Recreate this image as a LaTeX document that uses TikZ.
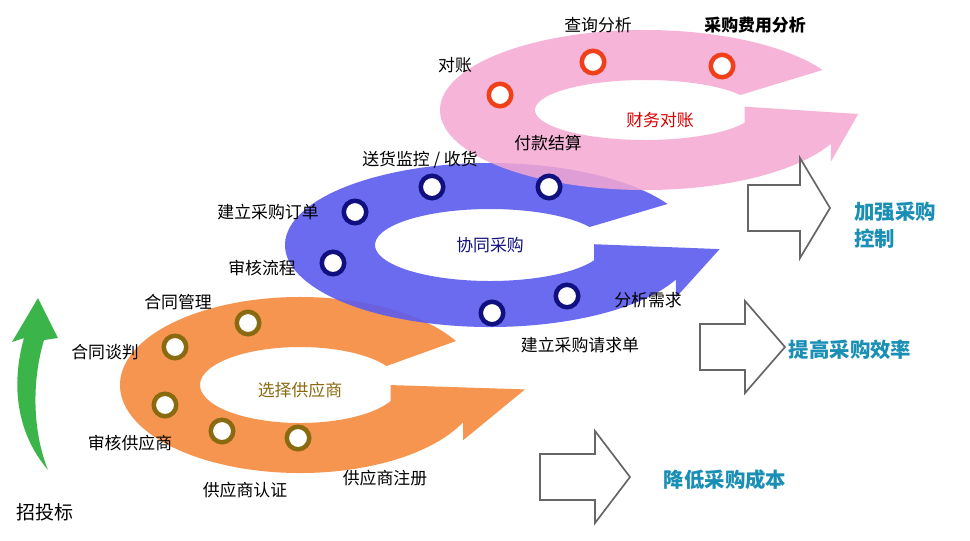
\documentclass[tikz,border=0pt]{standalone}
\usepackage{fontspec}
\setmainfont{Noto Sans CJK SC}
\usetikzlibrary{positioning}
\definecolor{ringorange}{HTML}{F58A3C}
\definecolor{ringblue}{HTML}{5C5CEE}
\definecolor{ringpink}{HTML}{F5A8D2}
\definecolor{dotbrown}{HTML}{8A6A10}
\definecolor{dotnavy}{HTML}{101080}
\definecolor{dotred}{HTML}{F0401A}
\definecolor{goalteal}{HTML}{1A8FB5}
\definecolor{tendergreen}{HTML}{3BB54A}
\tikzset{
    lbl/.style = {font=\fontsize{12}{14}\selectfont, inner sep=1pt},
    goal/.style = {font=\bfseries\fontsize{14.5}{19}\selectfont, text=goalteal, align=left, inner sep=1pt},
    stage dot/.style = {circle, draw=#1, line width=3.2pt, fill=white, minimum size=16pt, inner sep=0pt},
    outline arrow/.style = {draw=black!60, fill=white, line width=1.2pt, line join=miter}
}
% cx cy rx ry irx iry tip style
\newcommand{\cyclearrow}[8]{%
    \fill[#8] ({#1+#3*cos(330)},{#2+#4*sin(330)})
        arc[start angle=330, end angle=25, x radius=#3, y radius=#4]
        -- ++(0,18) -- ({#1+#7*#3},{#2+0.05*#4})
        -- ({#1+#5*cos(25)},{#2+#6*sin(25)-16})
        -- ({#1+#5*cos(25)},{#2+#6*sin(25)})
        arc[start angle=25, end angle=330, x radius=#5, y radius=#6] -- cycle;}
% x1 x2 x3 ymid halfshaft halfhead
\newcommand{\bigarrow}[6]{%
    \draw[outline arrow] (#1,#4-#5) -- (#2,#4-#5) -- (#2,#4-#6) -- (#3,#4)
        -- (#2,#4+#6) -- (#2,#4+#5) -- (#1,#4+#5) -- cycle;}
\begin{document}
\begin{tikzpicture}[x=0.025cm, y=-0.025cm]
    \useasboundingbox[fill=white] (0,0) rectangle (970,540);

    % rings
    \cyclearrow{300}{385}{180}{88}{100}{38}{1.25}{ringorange, opacity=.9}
    \cyclearrow{490}{245}{205}{82}{115}{36}{1.12}{ringblue, opacity=.9}
    \cyclearrow{645}{110}{205}{80}{110}{30}{1.04}{ringpink, opacity=.85}

    % tendering arrow
    \fill[tendergreen] (48,470) .. controls (14,430) and (12,380) .. (24,338)
        -- (12,342) -- (38,298) -- (58,338) -- (44,340)
        .. controls (32,380) and (32,430) .. (48,470) -- cycle;

    % goal arrows
    \bigarrow{748}{800}{830}{208}{23}{50}
    \bigarrow{700}{745}{785}{347}{23}{46}
    \bigarrow{540}{595}{630}{477}{23}{46}

    % stage dots
    \node[stage dot=dotbrown] (negotiate) at (175,347) {};
    \node[stage dot=dotbrown] (contract) at (248,323) {};
    \node[stage dot=dotbrown] (audit) at (165,405) {};
    \node[stage dot=dotbrown] (certify) at (222,431) {};
    \node[stage dot=dotbrown] (register) at (298,438) {};
    \node[stage dot=dotnavy] (delivery) at (432,187) {};
    \node[stage dot=dotnavy] (payment) at (549,187) {};
    \node[stage dot=dotnavy] (order) at (355,212) {};
    \node[stage dot=dotnavy] (review) at (333,263) {};
    \node[stage dot=dotnavy] (request) at (492,313) {};
    \node[stage dot=dotnavy] (demand) at (567,296) {};
    \node[stage dot=dotred] (reconcile) at (500,95) {};
    \node[stage dot=dotred] (query) at (593,62) {};
    \node[stage dot=dotred] (cost) at (722,66) {};

    % labels
    \node[lbl] (querylbl) at (598,25) {查询分析};
    \node[lbl, font=\bfseries\fontsize{12}{14}\selectfont] (costlbl) at (755,25) {采购费用分析};
    \node[lbl] (reconcilelbl) at (455,65) {对账};
    \node[lbl, text=red!85!black] (finance) at (660,120) {财务对账};
    \node[lbl] (paymentlbl) at (548,143) {付款结算};
    \node[lbl] (deliverylbl) at (420,160) {送货监控 / 收货};
    \node[lbl] (orderlbl) at (268,212) {建立采购订单};
    \node[lbl, text=dotnavy] (collab) at (490,245) {协同采购};
    \node[lbl] (reviewlbl) at (262,268) {审核流程};
    \node[lbl] (demandlbl) at (648,300) {分析需求};
    \node[lbl] (requestlbl) at (580,345) {建立采购请求单};
    \node[lbl] (contractlbl) at (178,302) {合同管理};
    \node[lbl] (negotiatelbl) at (105,352) {合同谈判};
    \node[lbl, text=dotbrown] (select) at (300,390) {选择供应商};
    \node[lbl] (auditlbl) at (130,443) {审核供应商};
    \node[lbl] (certifylbl) at (245,490) {供应商认证};
    \node[lbl] (registerlbl) at (385,478) {供应商注册};
    \node[lbl, font=\fontsize{13.5}{16}\selectfont] (tender) at (45,512) {招投标};

    \node[goal] (control) at (895,225) {加强采购\\控制};
    \node[goal] (efficiency) at (850,350) {提高采购效率};
    \node[goal] (lowcost) at (725,480) {降低采购成本};
\end{tikzpicture}
\end{document}
